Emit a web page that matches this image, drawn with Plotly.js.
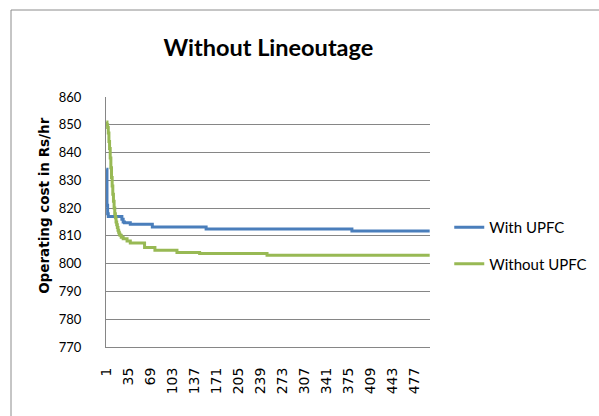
<!DOCTYPE html>
<html>
<head>
<meta charset="utf-8">
<script src="https://cdn.plot.ly/plotly-3.0.1.min.js"></script>
<style>html,body{margin:0;padding:0;background:#fff;}#chart{width:599px;height:416px;}</style>
</head>
<body>
<div id="chart"></div>
<script>
// Iteration at which the value changes (step data), and the cost from that iteration on
const iterWithUPFC = [1, 2, 3, 4, 25, 27, 29, 38, 72, 155, 380, 500];
const costWithUPFC = [834, 821, 818, 817, 816, 815, 814.7, 814.2, 813.2, 812.5, 811.8, 811.8];

const iterWithoutUPFC = [1, 2, 3, 4, 5, 6, 7, 8, 9, 10, 11, 12, 13, 14, 15, 16, 17, 18, 19, 20, 21, 22, 24, 27, 33, 38, 60, 76, 110, 145, 249, 500];
const costWithoutUPFC = [851, 850, 849, 847, 844, 841.5, 838, 834.5, 831, 828, 825, 822.5, 820, 818, 816.5, 815, 814, 813, 812, 811.3, 810.7, 810.2, 809.5, 809, 808.2, 807.4, 805.8, 804.8, 804, 803.7, 803, 803];

const xTickVals = [1, 35, 69, 103, 137, 171, 205, 239, 273, 307, 341, 375, 409, 443, 477];
const seriesNames = ["With UPFC", "Without UPFC"];
const chartTitle = "Without Lineoutage";
const yTitle = "Operating cost in Rs/hr";

const calib = "Lato, Liberation Sans, Arial, sans-serif";

const traces = [
  {x: iterWithUPFC, y: costWithUPFC, name: seriesNames[0], mode: "lines",
   line: {color: "#4A7EBB", width: 3, shape: "hv"}, legendgroup: "a"},
  {x: iterWithoutUPFC, y: costWithoutUPFC, name: seriesNames[1], mode: "lines",
   line: {color: "#98B954", width: 3, shape: "hv"}, legendgroup: "b"}
];

const layout = {
  width: 599, height: 416,
  margin: {l: 106, r: 169, t: 97, b: 69, autoexpand: false},
  paper_bgcolor: "#fff", plot_bgcolor: "#fff",
  title: {text: "<b>" + chartTitle + "</b>", font: {family: calib, size: 23.5, color: "#000"},
          xref: "container", yref: "container", x: 0.448, y: 0.885, xanchor: "center", yanchor: "middle"},
  xaxis: {range: [0.5, 500.5], tickmode: "array", tickvals: xTickVals, ticktext: xTickVals.map(String),
          tickangle: -90, tickfont: {family: "DejaVu Sans", size: 14, color: "#000"},
          ticks: "outside", ticklen: 14, tickcolor: "rgba(0,0,0,0)",
          showgrid: false, zeroline: false, showline: true, linecolor: "#868686", linewidth: 1},
  yaxis: {range: [770, 860], dtick: 10, tick0: 770,
          tickfont: {family: calib, size: 13, color: "#000"},
          ticks: "outside", ticklen: 21, tickcolor: "rgba(0,0,0,0)",
          showgrid: true, gridcolor: "#868686", gridwidth: 1, zeroline: false,
          showline: true, linecolor: "#868686", linewidth: 1},
  showlegend: true,
  legend: {xref: "container", yref: "container", x: 0.75, y: 0.493, xanchor: "left", yanchor: "top",
           traceorder: "grouped", tracegroupgap: 14,
           font: {family: calib, size: 15, color: "#000"}, bgcolor: "rgba(0,0,0,0)"},
  annotations: [
    {text: "<b>" + yTitle + "</b>", textangle: -90, xref: "paper", yref: "paper",
     x: -0.191, y: 0.565, xanchor: "center", yanchor: "middle", showarrow: false,
     font: {family: "DejaVu Sans", size: 13.5, color: "#000"}}
  ],
  shapes: [
    {type: "rect", xref: "paper", yref: "paper", x0: -0.2932, x1: 1.6, y0: -0.4, y1: 1.348,
     line: {color: "#8c8c8c", width: 1}, fillcolor: "rgba(0,0,0,0)", layer: "below"}
  ]
};

Plotly.newPlot("chart", traces, layout, {displayModeBar: false, staticPlot: true});
</script>
</body>
</html>
